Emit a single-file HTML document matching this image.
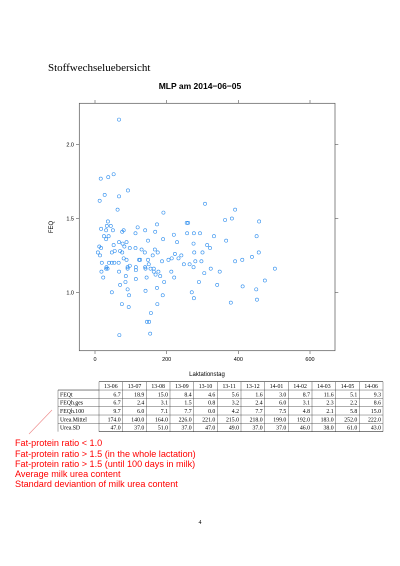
<!DOCTYPE html>
<html><head><meta charset="utf-8"><style>
body{margin:0;width:400px;height:566px;background:#fff;overflow:hidden;position:relative}
svg{position:absolute;left:0;top:0}
.serif{font-family:"Liberation Serif",serif}
.sans{font-family:"Liberation Sans",sans-serif}
</style></head><body>
<svg id="chart" width="400" height="566">
<text x="48" y="71" class="serif" font-size="11">Stoffwechseluebersicht</text>
<text x="200" y="89" text-anchor="middle" class="sans" font-size="8.5" font-weight="bold">MLP am 2014−06−05</text>
<rect x="79.3" y="103.3" width="255.7" height="247.4" fill="none" stroke="#555" stroke-width="0.7"/>
<g id="axes"></g>
<g id="points"></g>
<text x="207" y="376" text-anchor="middle" class="sans" font-size="6">Laktationstag</text>
<text transform="translate(53,227) rotate(-90)" text-anchor="middle" class="sans" font-size="6">FEQ</text>
<g id="table"></g>
<line x1="52" y1="410" x2="29" y2="434" stroke="#e88" stroke-width="0.6"/>
<g class="sans" font-size="9.1" fill="#f00">
<text x="15" y="446">Fat-protein ratio &lt; 1.0</text>
<text x="15" y="457">Fat-protein ratio &gt; 1.5 (in the whole lactation)</text>
<text x="15" y="467">Fat-protein ratio &gt; 1.5 (until 100 days in milk)</text>
<text x="15" y="477">Average milk urea content</text>
<text x="15" y="487">Standard deviantion of milk urea content</text>
</g>
<text x="200" y="524" text-anchor="middle" class="serif" font-size="6">4</text>
</svg>
<script>
const days=[67,16,37,52,27,67,92,13,63,307,191,391,363,382,458,256,260,173,36,33,44,119,17,31,50,80,76,140,113,168,220,257,276,293,332,451,25,38,31,366,148,190,229,67,77,88,275,313,52,321,12,17,82,97,113,130,167,175,139,300,277,457,47,55,70,76,8,14,223,241,161,233,214,205,126,123,148,80,88,297,280,391,411,438,187,19,39,47,66,54,150,248,264,97,91,140,114,155,164,275,32,31,35,114,91,141,323,502,164,177,18,67,213,348,305,169,182,86,144,221,23,114,193,85,290,474,70,341,173,412,91,47,141,270,450,95,189,276,452,75,174,379,94,156,145,151,68,154];
const feq=[2.17,1.77,1.78,1.80,1.66,1.65,1.69,1.62,1.56,1.60,1.54,1.56,1.49,1.50,1.48,1.47,1.47,1.46,1.48,1.45,1.45,1.44,1.43,1.42,1.42,1.42,1.41,1.42,1.40,1.41,1.39,1.40,1.40,1.40,1.38,1.38,1.38,1.38,1.36,1.35,1.35,1.36,1.34,1.34,1.33,1.34,1.33,1.32,1.32,1.30,1.31,1.30,1.31,1.30,1.30,1.29,1.29,1.27,1.27,1.27,1.27,1.27,1.27,1.28,1.28,1.27,1.27,1.25,1.26,1.25,1.25,1.23,1.23,1.22,1.22,1.22,1.22,1.23,1.22,1.21,1.21,1.21,1.22,1.24,1.21,1.20,1.20,1.20,1.20,1.20,1.19,1.19,1.19,1.18,1.17,1.17,1.17,1.16,1.16,1.17,1.17,1.16,1.16,1.15,1.16,1.16,1.16,1.16,1.14,1.14,1.14,1.14,1.14,1.14,1.13,1.12,1.11,1.11,1.10,1.10,1.10,1.09,1.07,1.07,1.07,1.08,1.05,1.05,1.03,1.04,1.02,1.00,1.01,1.00,1.02,0.98,0.98,0.96,0.95,0.92,0.92,0.93,0.90,0.86,0.80,0.80,0.71,0.72];
const xTicks=[0,200,400,600];
const yTicks=[1.0,1.5,2.0];
const months=["13-06","13-07","13-08","13-09","13-10","13-11","13-12","14-01","14-02","14-03","14-05","14-06"];
const rowNames=["FEQt","FEQh.ges","FEQh.100","Urea.Mittel","Urea.SD"];
const feqtVals=[6.7,18.9,15.0,8.4,4.6,5.6,1.6,3.0,8.7,11.6,5.1,9.3];
const feqhGesVals=[6.7,2.4,3.1,1.5,0.8,3.2,2.4,6.0,3.1,2.3,2.2,8.6];
const feqh100Vals=[9.7,6.0,7.1,7.7,0.0,4.2,7.7,7.5,4.8,2.1,5.8,15.0];
const ureaMeanVals=[174.0,140.0,164.0,226.0,221.0,215.0,218.0,199.0,192.0,183.0,252.0,222.0];
const ureaSdVals=[47.0,37.0,51.0,37.0,47.0,49.0,37.0,37.0,46.0,38.0,61.0,43.0];
const NS="http://www.w3.org/2000/svg";
const X=d=>95+d*215/600, Y=v=>292.3-(v-1)*147.6;
function mk(t,a,p){const e=document.createElementNS(NS,t);for(const k in a)e.setAttribute(k,a[k]);p.appendChild(e);return e;}
const ax=document.getElementById('axes');
xTicks.forEach(t=>{
 mk('line',{x1:X(t),x2:X(t),y1:350.7,y2:354,stroke:'#555','stroke-width':0.6},ax);
 mk('line',{x1:X(t),x2:X(t),y1:103.3,y2:100,stroke:'#555','stroke-width':0.6},ax);
 const tx=mk('text',{x:X(t),y:361,'text-anchor':'middle','font-size':5.5,'font-family':'Liberation Sans,sans-serif'},ax);
 tx.textContent=t;
 
 
});
yTicks.forEach(t=>{
 mk('line',{x1:79.3,x2:76,y1:Y(t),y2:Y(t),stroke:'#555','stroke-width':0.6},ax);
 mk('line',{x1:335,x2:338.3,y1:Y(t),y2:Y(t),stroke:'#555','stroke-width':0.6},ax);
 const tx=mk('text',{x:74,y:Y(t)+2,'text-anchor':'end','font-size':5.5,'font-family':'Liberation Sans,sans-serif'},ax);
 tx.textContent=t.toFixed(1);
 
 
});
const pg=document.getElementById('points');
days.forEach((d,i)=>{
 const c=mk('circle',{cx:X(d),cy:Y(feq[i]),r:1.6,fill:'none',stroke:'#2b8cee','stroke-width':0.6},pg);
 
 
});
const tb=document.getElementById('table');


const L=58,R=383,T=381.7,rh=8.33,c0=99,cw=(R-c0)/12;
const rows=[feqtVals,feqhGesVals,feqh100Vals,ureaMeanVals,ureaSdVals];
for(let r=0;r<=6;r++){
 const y=T+r*rh;
 mk('line',{x1:(r==0||r==6)?c0:L,x2:R,y1:y,y2:y,stroke:'#333','stroke-width':r==0||r==6?0.6:0.4},tb);
}
mk('line',{x1:L,x2:c0,y1:T+rh,y2:T+rh,stroke:'#333','stroke-width':0.4},tb);
mk('line',{x1:L,x2:L,y1:T+rh,y2:T+6*rh,stroke:'#333','stroke-width':0.4},tb);
for(let c=0;c<=12;c++){const x=c0+c*cw;mk('line',{x1:x,x2:x,y1:T,y2:T+6*rh,stroke:'#333','stroke-width':0.4},tb);}
months.forEach((m,c)=>{const t=mk('text',{x:c0+c*cw+cw/2,y:T+6.3,'text-anchor':'middle','font-size':5.8,'font-family':'Liberation Serif,serif'},tb);t.textContent=m;});
rows.forEach((vals,r)=>{
 const y=T+(r+1)*rh+6.3;
 const n=mk('text',{x:L+2,y:y,'font-size':5.8,'font-family':'Liberation Serif,serif'},tb);n.textContent=rowNames[r];
 vals.forEach((v,c)=>{const t=mk('text',{x:c0+(c+1)*cw-2,y:y,'text-anchor':'end','font-size':5.8,'font-family':'Liberation Serif,serif'},tb);t.textContent=v.toFixed(1);});
});
</script>
</body></html>
